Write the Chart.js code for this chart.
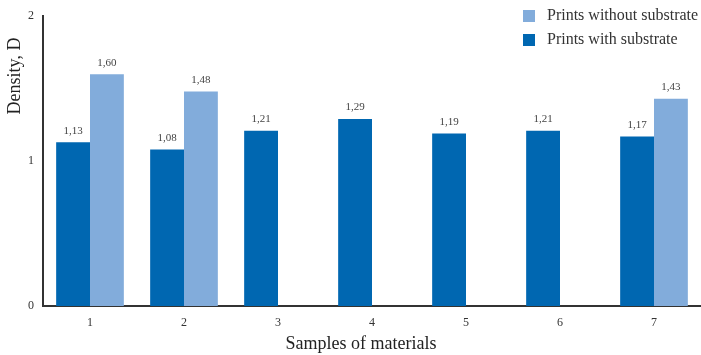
<!DOCTYPE html>
<html><head><meta charset="utf-8">
<script src="https://cdn.jsdelivr.net/npm/chart.js@4/dist/chart.umd.min.js"></script>
<style>html,body{margin:0;padding:0;background:#fff}#wrap{width:701px;height:355px}</style>
</head><body><div id="wrap"><canvas id="c" width="701" height="355"></canvas></div>
<script>
const categories = ['1','2','3','4','5','6','7'];
const withSubstrate = [1.13, 1.08, 1.21, 1.29, 1.19, 1.21, 1.17];
const withoutSubstrate = [1.60, 1.48, null, null, null, null, 1.43];
const yTicks = [0, 1, 2];
const seriesNames = ['Prints with substrate', 'Prints without substrate'];
const xTitle = 'Samples of materials';
const yTitle = 'Density, D';
const colors = ['#0067b1', '#82acdb'];
const FONT = '"Liberation Serif", "Times New Roman", serif';

const labelPlugin = {
  id: 'valueLabels',
  afterDatasetsDraw(chart) {
    const ctx = chart.ctx;
    ctx.save();
    ctx.font = '11px ' + FONT;
    ctx.fillStyle = '#444';
    ctx.textAlign = 'center';
    ctx.textBaseline = 'bottom';
    chart.data.datasets.forEach((ds, i) => {
      const meta = chart.getDatasetMeta(i);
      meta.data.forEach((bar, j) => {
        const v = ds.data[j];
        if (v == null) return;
        ctx.fillText(v.toFixed(2).replace('.', ','), bar.x, bar.y - 6);
      });
    });
    ctx.restore();
  }
};

const legendPlugin = {
  id: 'customLegend',
  afterDraw(chart) {
    const ctx = chart.ctx;
    ctx.save();
    ctx.font = '16px ' + FONT;
    ctx.textBaseline = 'middle';
    ctx.textAlign = 'left';
    const order = [1, 0];
    order.forEach((di, k) => {
      const ds = chart.data.datasets[di];
      const y = 16 + k * 24;
      ctx.fillStyle = ds.backgroundColor;
      ctx.fillRect(523, y - 6, 12, 12);
      ctx.fillStyle = '#333';
      ctx.fillText(ds.label, 547, y);
    });
    // axis titles
    ctx.fillStyle = '#222';
    ctx.font = '18px ' + FONT;
    ctx.textAlign = 'center';
    ctx.fillText(xTitle, 361, 344);
    ctx.translate(15, 76);
    ctx.rotate(-Math.PI / 2);
    ctx.fillText(yTitle, 0, 0);
    ctx.restore();
  }
};

new Chart(document.getElementById('c'), {
  type: 'bar',
  data: {
    labels: categories,
    datasets: [
      { label: seriesNames[0], data: withSubstrate, backgroundColor: colors[0], categoryPercentage: 0.72, barPercentage: 1.0 },
      { label: seriesNames[1], data: withoutSubstrate, backgroundColor: colors[1], categoryPercentage: 0.72, barPercentage: 1.0 }
    ]
  },
  options: {
    responsive: false,
    animation: false,
    layout: { padding: { top: 15, right: 0, left: 0, bottom: 0 } },
    plugins: { legend: { display: false }, tooltip: { enabled: false } },
    scales: {
      x: {
        grid: { display: false, drawTicks: false },
        border: { display: true, color: '#333', width: 2 },
        ticks: { color: '#333', font: { family: FONT, size: 12 }, padding: 10 },
        afterFit(s) { s.height = 49; }
      },
      y: {
        min: 0, max: 2,
        afterBuildTicks(s) { s.ticks = yTicks.map(v => ({ value: v })); },
        grid: { display: false, drawTicks: false },
        border: { display: true, color: '#333', width: 2 },
        ticks: { color: '#333', font: { family: FONT, size: 12 }, padding: 9 },
        afterFit(s) { s.width = 43; }
      }
    }
  },
  plugins: [labelPlugin, legendPlugin]
});
</script></body></html>
